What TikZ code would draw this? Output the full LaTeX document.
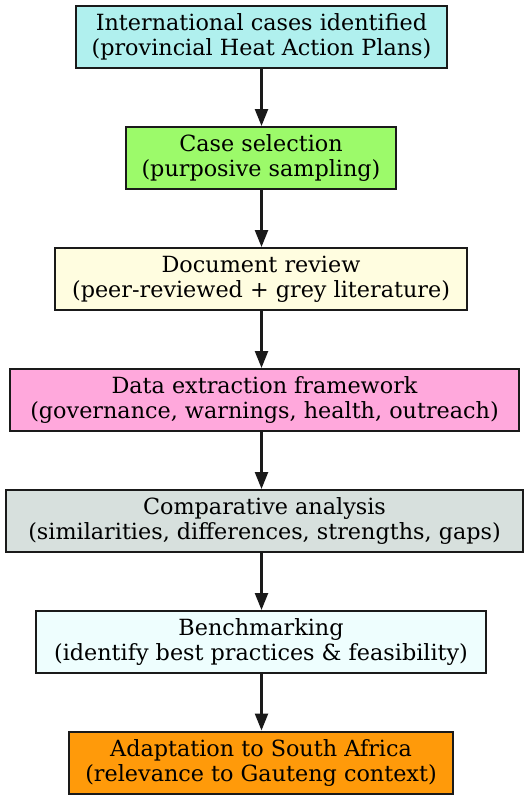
\documentclass[tikz,border=0pt]{standalone}
\usepackage{fontspec}
\setmainfont{DejaVu Serif}
\usetikzlibrary{arrows.meta}
\definecolor{c1}{HTML}{B0F0EE}
\definecolor{c2}{HTML}{9CFA6A}
\definecolor{c3}{HTML}{FFFDE0}
\definecolor{c4}{HTML}{FFA8DC}
\definecolor{c5}{HTML}{D7E0DD}
\definecolor{c6}{HTML}{EEFEFE}
\definecolor{c7}{HTML}{FF9A0A}
\definecolor{edge}{HTML}{1A1A1A}
\tikzset{
  stepbox/.style={draw=edge, line width=2pt, inner sep=0pt, align=center,
    font=\fontsize{22.3}{25}\selectfont, minimum height=62pt},
  flow/.style={draw=edge, line width=2.4pt, -{Triangle[length=17pt,width=13pt]}}
}
\begin{document}
\begin{tikzpicture}[x=1pt,y=1pt]
\useasboundingbox (0,0) rectangle (530,-800);
\fill[white] (0,0) rectangle (530,-800);
\node[stepbox, fill=c1, minimum width=371pt] (n1) at (261.5,-37)
  {International cases identified\\(provincial Heat Action Plans)};
\node[stepbox, fill=c2, minimum width=270pt] (n2) at (261,-158)
  {Case selection\\(purposive sampling)};
\node[stepbox, fill=c3, minimum width=412pt] (n3) at (261,-279)
  {Document review\\(peer-reviewed + grey literature)};
\node[stepbox, fill=c4, minimum width=509pt] (n4) at (264.5,-400)
  {Data extraction framework\\(governance, warnings, health, outreach)};
\node[stepbox, fill=c5, minimum width=517pt] (n5) at (264.5,-521)
  {Comparative analysis\\(similarities, differences, strengths, gaps)};
\node[stepbox, fill=c6, minimum width=450pt] (n6) at (261,-642)
  {Benchmarking\\(identify best practices \& feasibility)};
\node[stepbox, fill=c7, minimum width=384pt] (n7) at (261,-762.5)
  {Adaptation to South Africa\\(relevance to Gauteng context)};
\foreach \a/\b in {n1/n2,n2/n3,n3/n4,n4/n5,n5/n6,n6/n7}
  \draw[flow] (\a.south -| 261.5,0) -- (\b.north -| 261.5,0);
\end{tikzpicture}
\end{document}
